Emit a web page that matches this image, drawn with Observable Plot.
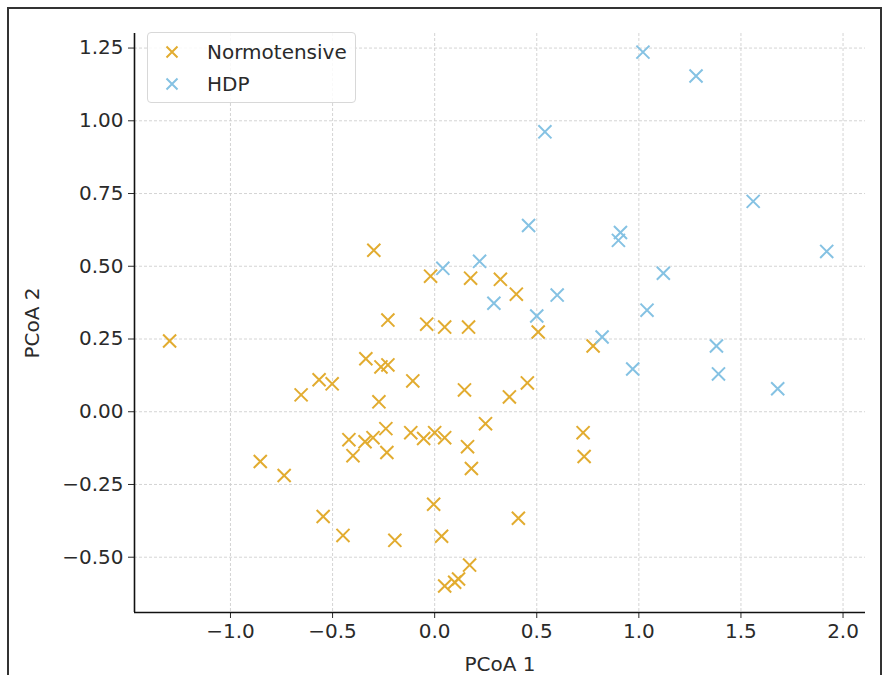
<!DOCTYPE html>
<html>
<head>
<meta charset="utf-8">
<script src="https://cdn.jsdelivr.net/npm/d3@7"></script>
<script src="https://cdn.jsdelivr.net/npm/@observablehq/plot@0.6"></script>
<style>
  html, body { margin: 0; padding: 0; background: white; }
  #wrap { position: relative; width: 885px; height: 675px; overflow: hidden; font-family: "DejaVu Sans", sans-serif; }
  #border { position: absolute; left: 7px; top: 7px; width: 871px; height: 720px; border: 2px solid #333; pointer-events: none; }
  #legend { position: absolute; left: 147px; top: 32px; width: 207px; height: 69px; border: 1px solid #d8d8d8; border-radius: 4px; background: rgba(255,255,255,0.85); font-size: 20px; color: #2a2a2a; }
  .row { position: absolute; left: 0; height: 24px; display: flex; align-items: center; }
  .row svg { margin-left: 17px; margin-right: 28px; }
</style>
</head>
<body>
<div id="wrap">
  <div id="chart"></div>
  <div id="legend"></div>
  <div id="border"></div>
</div>
<script>
// Series names and colours
const seriesNames = ["Normotensive", "HDP"];
const seriesColors = ["#e2ac30", "#85c2e3"];

// Normotensive (PCoA 1, PCoA 2)
const normX = [-1.298, -0.298, -0.020, -0.229, -0.039, 0.049, 0.166, -0.337, -0.263, -0.229,
  -0.107, -0.566, -0.502, -0.654, -0.273, 0.176, 0.322, 0.400, 0.507, 0.776,
  0.146, 0.366, 0.454, -0.420, -0.341, -0.302, -0.239, -0.400, -0.234, -0.117,
  -0.054, 0.000, 0.049, 0.161, 0.249, 0.180, -0.854, -0.737, -0.546, -0.449,
  -0.195, -0.005, 0.034, 0.171, 0.049, 0.098, 0.117, 0.727, 0.732, 0.410];
const normY = [0.243, 0.555, 0.466, 0.315, 0.301, 0.291, 0.291, 0.182, 0.154, 0.161,
  0.106, 0.110, 0.096, 0.058, 0.034, 0.459, 0.455, 0.404, 0.274, 0.226,
  0.075, 0.051, 0.099, -0.096, -0.103, -0.089, -0.058, -0.151, -0.140, -0.072,
  -0.092, -0.072, -0.089, -0.120, -0.041, -0.195, -0.171, -0.219, -0.360, -0.425,
  -0.442, -0.318, -0.428, -0.527, -0.599, -0.586, -0.575, -0.072, -0.154, -0.366];

// HDP (PCoA 1, PCoA 2)
const hdpX = [1.02, 1.28, 0.54, 1.56, 1.92, 0.46, 0.91, 0.90, 0.04, 0.22,
  1.12, 0.29, 0.60, 0.50, 1.04, 0.82, 1.38, 0.97, 1.39, 1.68];
const hdpY = [1.236, 1.154, 0.962, 0.723, 0.551, 0.640, 0.616, 0.589, 0.493, 0.517,
  0.476, 0.373, 0.401, 0.329, 0.349, 0.257, 0.226, 0.147, 0.130, 0.079];

// Axis ticks
const xTicks = [-1.0, -0.5, 0.0, 0.5, 1.0, 1.5, 2.0];
const yTicks = [-0.50, -0.25, 0.00, 0.25, 0.50, 0.75, 1.00, 1.25];
const xDomain = [-1.47, 2.11];
const yDomain = [-0.69, 1.30];

const data = [
  ...normX.map((x, i) => ({x, y: normY[i], group: seriesNames[0]})),
  ...hdpX.map((x, i) => ({x, y: hdpY[i], group: seriesNames[1]}))
];

const font = "DejaVu Sans";
const chart = Plot.plot({
  width: 885,
  height: 675,
  marginLeft: 134,
  marginRight: 20,
  marginTop: 33,
  marginBottom: 63,
  style: {fontFamily: font, fontSize: "20px", color: "#2a2a2a", background: "white"},
  x: {domain: xDomain},
  y: {domain: yDomain},
  color: {domain: seriesNames, range: seriesColors},
  marks: [
    Plot.gridX(xTicks, {stroke: "#cfcfcf", strokeOpacity: 1, strokeWidth: 0.9, strokeDasharray: "3,2"}),
    Plot.gridY(yTicks, {stroke: "#cfcfcf", strokeOpacity: 1, strokeWidth: 0.9, strokeDasharray: "3,2"}),
    Plot.dot(data, {x: "x", y: "y", stroke: "group", symbol: "times", r: 6, strokeWidth: 2}),
    Plot.axisX(xTicks, {tickFormat: d3.format(".1f"), tickSize: 6, tickPadding: 5, fontSize: 20,
      label: "PCoA 1", labelAnchor: "center", labelOffset: 58, labelArrow: "none"}),
    Plot.axisY(yTicks, {tickFormat: d3.format(".2f"), tickSize: 6, tickPadding: 5, fontSize: 20,
      label: "PCoA 2", labelAnchor: "center", labelOffset: 110, labelArrow: "none"}),
    Plot.ruleX([xDomain[0]], {stroke: "#111", strokeWidth: 1.6}),
    Plot.ruleY([yDomain[0]], {stroke: "#111", strokeWidth: 1.6})
  ]
});
document.getElementById("chart").appendChild(chart);

// Legend (HTML overlay inside plot area)
const legend = document.getElementById("legend");
seriesNames.forEach((name, i) => {
  const row = document.createElement("div");
  row.className = "row";
  row.style.top = (7 + i * 32) + "px";
  row.innerHTML = `<svg width="14" height="14" viewBox="-7 -7 14 14"><path d="M-5.5,-5.5L5.5,5.5M-5.5,5.5L5.5,-5.5" stroke="${seriesColors[i]}" stroke-width="2" fill="none"/></svg><span>${name}</span>`;
  legend.appendChild(row);
});
</script>
</body>
</html>
